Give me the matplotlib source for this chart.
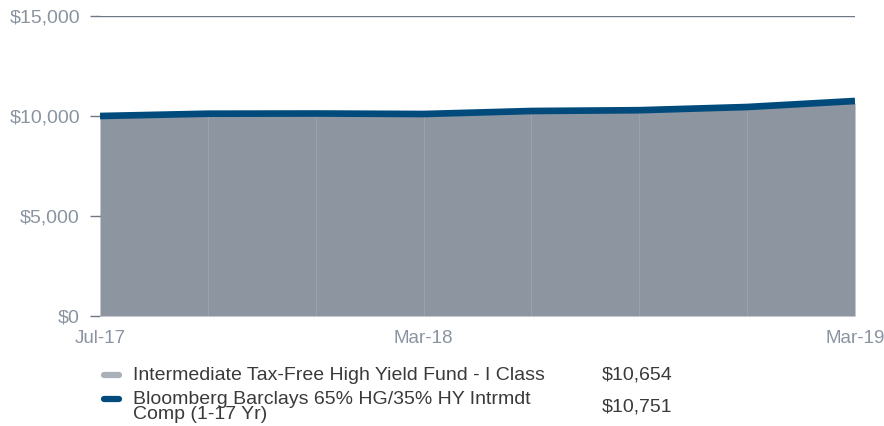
"""
Growth of $10,000 area chart: fund vs benchmark, Jul-17 to Mar-19.
"""
import matplotlib
matplotlib.use('Agg')
import matplotlib.pyplot as plt
from matplotlib.ticker import FuncFormatter

# Quarter-end points (only three are labelled on the axis)
periods = ['Jul-17', 'Sep-17', 'Dec-17', 'Mar-18', 'Jun-18', 'Sep-18', 'Dec-18', 'Mar-19']
shown_labels = ['Jul-17', 'Mar-18', 'Mar-19']

fund = [10000, 10060, 10080, 10050, 10180, 10210, 10360, 10654]
benchmark = [10000, 10115, 10125, 10100, 10250, 10290, 10450, 10751]

fund_name = 'Intermediate Tax-Free High Yield Fund - I Class'
bench_name = 'Bloomberg Barclays 65% HG/35% HY Intrmdt\nComp (1-17 Yr)'
fund_end = '$10,654'
bench_end = '$10,751'

yticks = [0, 5000, 10000, 15000]

FILL = '#8c95a0'
BLUE = '#004b7c'
TICK = '#8a94a0'
TEXT = '#3a3a3a'

plt.rcParams['font.family'] = ['Liberation Sans', 'DejaVu Sans']

fig = plt.figure(figsize=(8.84, 4.26), dpi=100)
ax = fig.add_axes([100 / 884, 110 / 426, 755 / 884, 300 / 426])

x = list(range(len(periods)))
ax.fill_between(x, 0, fund, color=FILL, linewidth=0, zorder=2)
# faint vertical separators inside the fill
ax.vlines(x[1:-1], 0, fund[1:-1], color='white', alpha=0.12, linewidth=0.8, zorder=3)
ax.plot(x, benchmark, color=BLUE, linewidth=4.8, solid_capstyle='butt', zorder=4)

ax.set_xlim(0, len(periods) - 1)
ax.set_ylim(0, 15000)
ax.set_yticks(yticks)
ax.yaxis.set_major_formatter(FuncFormatter(lambda v, p: '${:,.0f}'.format(v)))
ax.set_axisbelow(True)
ax.grid(axis='y', color='#6d7885', linewidth=1.0)

ax.set_xticks([periods.index(l) for l in shown_labels])
ax.set_xticklabels(shown_labels)

for s in ax.spines.values():
    s.set_visible(False)
ax.tick_params(axis='y', length=7.5, width=1, color='#6d7885', labelsize=14,
               labelcolor=TICK, pad=7)
ax.tick_params(axis='x', length=0, labelsize=13.5, labelcolor=TICK, pad=10)

# legend drawn as text rows
fig.add_artist(plt.Line2D([104 / 884, 119 / 884], [1 - 375 / 426] * 2, color='#a9b0b8',
                          linewidth=4.5, solid_capstyle='round'))
fig.add_artist(plt.Line2D([104 / 884, 119 / 884], [1 - 399 / 426] * 2, color=BLUE,
                          linewidth=4.5, solid_capstyle='round'))
fig.text(133 / 884, 1 - 375 / 426, fund_name, fontsize=14, color=TEXT, va='center')
fig.text(133 / 884, 1 - 407 / 426, bench_name, fontsize=14, color=TEXT, va='center',
         linespacing=0.8)
fig.text(602 / 884, 1 - 375 / 426, fund_end, fontsize=14, color=TEXT, va='center')
fig.text(602 / 884, 1 - 407 / 426, bench_end, fontsize=14, color=TEXT, va='center')

plt.savefig('out.png', dpi=100)
